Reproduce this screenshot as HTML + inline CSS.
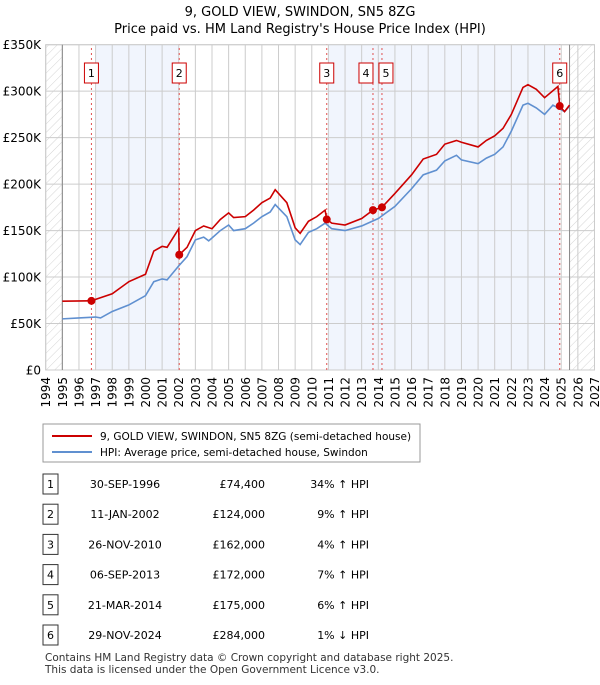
<!DOCTYPE html>
<html><head><meta charset="utf-8"><style>
body{margin:0;background:#fff;font-family:"Liberation Sans","DejaVu Sans",sans-serif;}
svg text{font-family:"DejaVu Sans","Liberation Sans",sans-serif;}
</style></head><body>
<svg id="c" width="600" height="680" xmlns="http://www.w3.org/2000/svg">
<defs><pattern id="h" width="6" height="6" patternUnits="userSpaceOnUse" patternTransform="rotate(45)"><line x1="0" y1="0" x2="0" y2="6" stroke="#d4d4d4" stroke-width="1"/></pattern></defs>
<text x="300" y="16" text-anchor="middle" font-size="13">9, GOLD VIEW, SWINDON, SN5 8ZG</text>
<text x="300" y="33" text-anchor="middle" font-size="13">Price paid vs. HM Land Registry's House Price Index (HPI)</text>
<g id="plot"></g>
<g>
<rect x="43" y="424" width="377" height="38" fill="#fff" stroke="#999"/>
<line x1="52" y1="436" x2="92" y2="436" stroke="#cc0000" stroke-width="2"/>
<text x="100" y="440" font-size="10.5">9, GOLD VIEW, SWINDON, SN5 8ZG (semi-detached house)</text>
<line x1="52" y1="452" x2="92" y2="452" stroke="#6090d0" stroke-width="2"/>
<text x="100" y="456" font-size="10.5">HPI: Average price, semi-detached house, Swindon</text>
</g>
<g id="table"></g>
<text x="45" y="661" font-size="10.5" fill="#333">Contains HM Land Registry data © Crown copyright and database right 2025.</text>
<text x="45" y="673" font-size="10.5" fill="#333">This data is licensed under the Open Government Licence v3.0.</text>
</svg>
<script>
const hpiYears=[1995,1996,1997,1997.3,1998,1999,2000,2000.5,2001,2001.3,2002,2002.5,2003,2003.5,2003.8,2004,2004.5,2005,2005.3,2006,2006.5,2007,2007.5,2007.8,2008.5,2009,2009.3,2009.8,2010.3,2010.8,2011.2,2012,2013,2014,2015,2016,2016.7,2017.5,2018,2018.7,2019,2020,2020.5,2021,2021.5,2022,2022.7,2023,2023.5,2024,2024.5,2024.9,2025.2,2025.5];
const hpiValues=[55,56,57,56,63,70,80,95,98,97,112,122,140,143,139,142,150,156,150,152,158,165,170,178,165,140,135,148,152,158,152,150,155,163,176,195,210,215,225,231,226,222,228,232,240,257,285,287,282,275,285,281,278,284];
const ppYears=[1995,1996.75,1997,1998,1999,2000,2000.5,2001,2001.3,2002,2002.03,2002.5,2003,2003.5,2004,2004.5,2005,2005.3,2006,2006.5,2007,2007.5,2007.8,2008.5,2009,2009.3,2009.8,2010.3,2010.8,2010.9,2011.2,2012,2013,2013.68,2014.22,2015,2016,2016.7,2017.5,2018,2018.7,2019,2020,2020.5,2021,2021.5,2022,2022.7,2023,2023.5,2024,2024.8,2024.91,2025.2,2025.5];
const ppValues=[74,74.4,76,82,95,103,128,133,132,152,124,132,150,155,152,162,169,164,165,172,180,185,194,180,153,147,160,165,172,162,158,156,163,172,175,190,210,227,232,243,247,245,240,247,252,260,275,304,307,302,293,305,284,278,285];
const saleLabels=["1","2","3","4","5","6"];
const saleDates=["30-SEP-1996","11-JAN-2002","26-NOV-2010","06-SEP-2013","21-MAR-2014","29-NOV-2024"];
const saleYears=[1996.75,2002.03,2010.9,2013.68,2014.22,2024.91];
const salePrices=[74400,124000,162000,172000,175000,284000];
const saleHpiText=["34% ↑ HPI","9% ↑ HPI","4% ↑ HPI","7% ↑ HPI","6% ↑ HPI","1% ↓ HPI"];
const yTicks=[0,50,100,150,200,250,300,350];
const yTickLabels=["£0","£50K","£100K","£150K","£200K","£250K","£300K","£350K"];
const NS="http://www.w3.org/2000/svg";
const X0=45.7,PX=16.63,Y0=370,PY=325.3/350;
const xs=y=>X0+(y-1994)*PX, ys=v=>Y0-v*PY;
const plot=document.getElementById('plot');
function mk(t,a,p){const e=document.createElementNS(NS,t);for(const k in a)e.setAttribute(k,a[k]);(p||plot).appendChild(e);return e;}
let e;
e=mk('rect',{x:xs(1994),y:ys(350),width:xs(2027)-xs(1994),height:ys(0)-ys(350),fill:'#fff',stroke:'#ccc'});

e=mk('rect',{x:xs(1994),y:ys(350),width:xs(1995)-xs(1994),height:ys(0)-ys(350),fill:'url(#h)'});

e=mk('rect',{x:xs(2025.5),y:ys(350),width:xs(2027)-xs(2025.5),height:ys(0)-ys(350),fill:'url(#h)'});

e=mk('rect',{x:xs(1997),y:ys(350),width:xs(2002.03)-xs(1997),height:ys(0)-ys(350),fill:'#eef3fc',opacity:0.8});

e=mk('rect',{x:xs(2011),y:ys(350),width:xs(2024.91)-xs(2011),height:ys(0)-ys(350),fill:'#eef3fc',opacity:0.8});

for(let y=1994;y<=2027;y++){
 e=mk('line',{x1:xs(y),x2:xs(y),y1:ys(0),y2:ys(350),stroke:'#ccc'});
 
 e=mk('text',{x:0,y:0,'font-size':12,'text-anchor':'end',transform:`translate(${xs(y)+4.5},377) rotate(-90)`});
 e.textContent=y;
 
}
yTicks.forEach((v,i)=>{
 e=mk('line',{x1:xs(1994),x2:xs(2027),y1:ys(v),y2:ys(v),stroke:'#ccc'});
 
 e=mk('text',{x:41,y:ys(v)+4.5,'font-size':12,'text-anchor':'end'});
 e.textContent=yTickLabels[i];
 
});
e=mk('line',{x1:xs(1995),x2:xs(1995),y1:ys(0),y2:ys(350),stroke:'#888'});

e=mk('line',{x1:xs(2025.5),x2:xs(2025.5),y1:ys(0),y2:ys(350),stroke:'#888'});

saleYears.forEach((y,i)=>{
 e=mk('line',{x1:xs(y),x2:xs(y),y1:ys(0),y2:ys(350),stroke:'#e05050','stroke-dasharray':'2,3'});
 
});
e=mk('polyline',{points:hpiYears.map((y,i)=>xs(y)+','+ys(hpiValues[i])).join(' '),fill:'none',stroke:'#6090d0','stroke-width':1.6});

e=mk('polyline',{points:ppYears.map((y,i)=>xs(y)+','+ys(ppValues[i])).join(' '),fill:'none',stroke:'#cc0000','stroke-width':1.6});

saleYears.forEach((y,i)=>{
 e=mk('circle',{cx:xs(y),cy:ys(salePrices[i]/1000),r:4,fill:'#cc0000'});
 
 const off=i===3?-7:(i===4?4:0);
 e=mk('rect',{x:xs(y)+off-7,y:63,width:14,height:20,fill:'#fff',stroke:'#cc0000'});
 
 e=mk('text',{x:xs(y)+off,y:77,'font-size':11,'text-anchor':'middle'});
 e.textContent=saleLabels[i];
 
});
const tb=document.getElementById('table');
saleLabels.forEach((l,i)=>{
 const cy=484+i*30.2;
 e=mk('rect',{x:43,y:cy-10,width:15,height:20,fill:'#fff',stroke:'#333'},tb);
 
 e=mk('text',{x:50.5,y:cy+4,'font-size':11,'text-anchor':'middle'},tb);e.textContent=l;
 
 e=mk('text',{x:125,y:cy+4,'font-size':11,'text-anchor':'middle'},tb);e.textContent=saleDates[i];
 
 e=mk('text',{x:265,y:cy+4,'font-size':11,'text-anchor':'end'},tb);e.textContent='£'+salePrices[i].toLocaleString('en-GB');
 
 e=mk('text',{x:369,y:cy+4,'font-size':11,'text-anchor':'end'},tb);e.textContent=saleHpiText[i];
 
});
</script>
</body></html>
